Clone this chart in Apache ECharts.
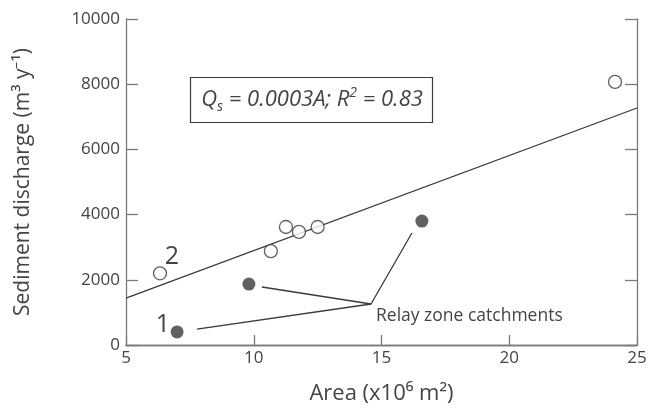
<!DOCTYPE html>
<html><head><meta charset="utf-8">
<script src="https://cdn.jsdelivr.net/npm/echarts@6/dist/echarts.min.js"></script>
<style>html,body{margin:0;padding:0;background:#fff}#c{width:650px;height:405px}</style>
</head><body><div id="c"></div>
<script>
// Data
const openPoints = [[6.33, 2200], [10.67, 2880], [11.26, 3620], [11.77, 3470], [12.5, 3620], [24.14, 8070]];
const relayPoints = [[7.0, 400], [9.81, 1870], [16.58, 3800]];
const fitLine = [[5, 1440], [25, 7270]];
const leader1 = [[7.78, 490], [14.59, 1258]];
const leader2 = [[10.32, 1779], [14.59, 1258], [16.19, 3436]];
const xTicks = [5, 10, 15, 20, 25];
const yTicks = [0, 2000, 4000, 6000, 8000, 10000];

const FONT = '"Open Sans", sans-serif';
const axisCol = '#7a7a7a';
const txt = '#444';
const chart = echarts.init(document.getElementById('c'));
const lineSer = (d) => ({type: 'line', data: d, symbol: 'none', silent: true,
  lineStyle: {color: '#3a3a3a', width: 1.3}, z: 2});
chart.setOption({
  animation: false,
  grid: {left: 126, right: 13, top: 19, bottom: 60, containLabel: false, outerBoundsMode: 'none'},
  xAxis: [{
    type: 'value', min: xTicks[0], max: xTicks[xTicks.length - 1], interval: 5,
    name: 'Area (x10⁶ m²)', nameLocation: 'middle', nameGap: 38,
    nameTextStyle: {fontFamily: FONT, fontSize: 22, color: txt},
    axisLine: {lineStyle: {color: axisCol, width: 1.3}},
    axisTick: {inside: true, length: 10, lineStyle: {color: axisCol, width: 1.3}},
    axisLabel: {fontFamily: FONT, fontSize: 17, color: txt, margin: 5},
    splitLine: {show: false}
  }, {
    type: 'value', position: 'top', min: 5, max: 25, interval: 5,
    axisLine: {show: true, lineStyle: {color: axisCol, width: 1.3}},
    axisTick: {show: false}, axisLabel: {show: false}, splitLine: {show: false}
  }],
  yAxis: [{
    type: 'value', min: yTicks[0], max: yTicks[yTicks.length - 1], interval: 2000,
    name: 'Sediment discharge (m³ y⁻¹)', nameLocation: 'middle', nameGap: 92,
    nameTextStyle: {fontFamily: FONT, fontSize: 21, color: txt},
    axisLine: {show: true, lineStyle: {color: axisCol, width: 1.3}},
    axisTick: {show: true, inside: true, length: 12, lineStyle: {color: axisCol, width: 1.3}},
    axisLabel: {fontFamily: FONT, fontSize: 17, color: txt, margin: 6, formatter: (v) => String(v)},
    splitLine: {show: false}
  }, {
    type: 'value', position: 'right', min: 0, max: 10000, interval: 2000,
    axisLine: {show: true, lineStyle: {color: axisCol, width: 1.3}},
    axisTick: {show: true, inside: true, length: 12, lineStyle: {color: axisCol, width: 1.3}},
    axisLabel: {show: false}, splitLine: {show: false}
  }],
  series: [
    lineSer(fitLine),
    lineSer(leader1),
    lineSer(leader2),
    {type: 'scatter', data: openPoints, symbol: 'circle', symbolSize: 13,
     itemStyle: {color: '#fff', borderColor: '#3a3a3a', borderWidth: 1.3}, z: 3},
    {type: 'scatter', data: relayPoints, symbol: 'circle', symbolSize: 13,
     itemStyle: {color: '#3a3a3a'}, z: 3}
  ],
  graphic: [
    {type: 'rect', shape: {x: 190.5, y: 77.5, width: 242, height: 45},
     style: {fill: '#fff', stroke: '#3a3a3a', lineWidth: 1.2}, z: 10},
    {type: 'text', x: 312, y: 100, z: 11, style: {
      text: '{a|Q}{s|s}{a| = 0.0003A; R}{p|2}{a| = 0.83}',
      align: 'center', verticalAlign: 'middle',
      rich: {
        a: {fontFamily: FONT, fontStyle: 'italic', fontSize: 22, fill: txt, lineHeight: 32},
        s: {fontFamily: FONT, fontStyle: 'italic', fontSize: 14, fill: txt, lineHeight: 32, padding: [15, 0, 0, 0]},
        p: {fontFamily: FONT, fontStyle: 'italic', fontSize: 14, fill: txt, lineHeight: 32, padding: [0, 0, 13, 0]}
      }}},
    {type: 'text', x: 376, y: 316, style: {text: 'Relay zone catchments', fontFamily: FONT, fontSize: 17.5, fill: txt, verticalAlign: 'middle'}},
    {type: 'text', x: 163, y: 325, style: {text: '1', fontFamily: FONT, fontSize: 25, fill: txt, align: 'center', verticalAlign: 'middle'}},
    {type: 'text', x: 172, y: 257, style: {text: '2', fontFamily: FONT, fontSize: 25, fill: txt, align: 'center', verticalAlign: 'middle'}}
  ]
});
</script></body></html>
